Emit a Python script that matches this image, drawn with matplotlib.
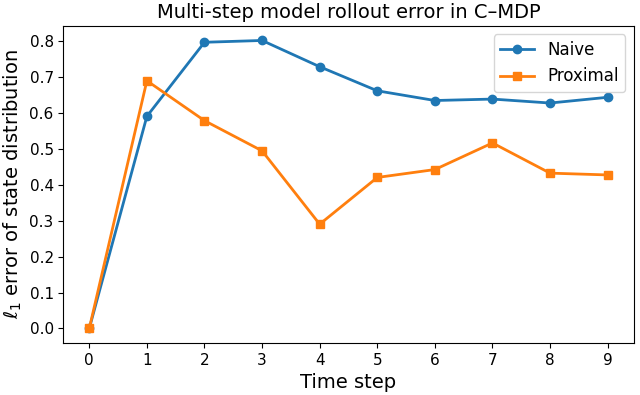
import matplotlib
matplotlib.use("Agg")
import matplotlib.pyplot as plt

steps = [0, 1, 2, 3, 4, 5, 6, 7, 8, 9]
naive = [0.0, 0.590, 0.796, 0.801, 0.728, 0.661, 0.634, 0.638, 0.627, 0.643]
proximal = [0.0, 0.689, 0.578, 0.494, 0.290, 0.420, 0.442, 0.516, 0.432, 0.427]

fig = plt.figure(figsize=(6.4, 3.95), dpi=100)
ax = fig.add_axes([0.099, 0.132, 0.891, 0.802])
ax.plot(steps, naive, marker='o', lw=2, ms=6, label='Naive', color='#1f77b4')
ax.plot(steps, proximal, marker='s', lw=2, ms=6, label='Proximal', color='#ff7f0e')
ax.set_xticks(steps)
ax.set_yticks([0.0, 0.1, 0.2, 0.3, 0.4, 0.5, 0.6, 0.7, 0.8])
ax.tick_params(labelsize=11)
ax.set_xlabel('Time step', fontsize=14)
ax.set_ylabel(r'$\ell_1$ error of state distribution', fontsize=14)
ax.set_title('Multi-step model rollout error in C\u2013MDP', fontsize=14)
ax.legend(fontsize=12, loc='upper right')
fig.savefig('out.png', dpi=100)
